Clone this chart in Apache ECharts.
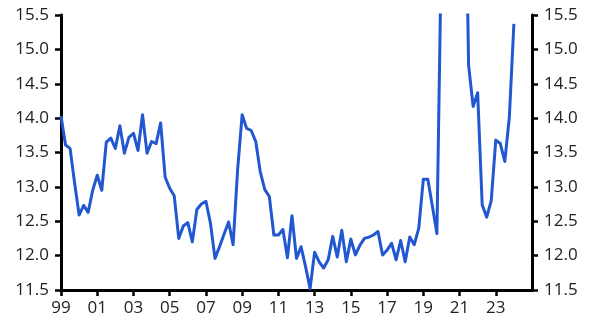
<!DOCTYPE html>
<html>
<head>
<meta charset="utf-8">
<script src="https://cdn.jsdelivr.net/npm/echarts@6/dist/echarts.min.js"></script>
<style>
  html, body { margin: 0; padding: 0; background: #fff; }
  #chart { width: 591px; height: 331px; }
</style>
</head>
<body>
<div id="chart"></div>
<script>
// Quarterly series, first point 1999 Q1
const startYear = 1999;
const values = [
  14.03, 13.61, 13.56, 13.06, 12.59, 12.73, 12.63, 12.95,   // 1999-2000
  13.17, 12.95, 13.65, 13.71, 13.56, 13.89, 13.49, 13.72,   // 2001-2002
  13.78, 13.53, 14.05, 13.49, 13.66, 13.63, 13.93, 13.14,   // 2003-2004
  12.98, 12.87, 12.25, 12.43, 12.48, 12.20, 12.67, 12.75,   // 2005-2006
  12.79, 12.47, 11.96, 12.13, 12.31, 12.49, 12.16, 13.25,   // 2007-2008
  14.05, 13.85, 13.82, 13.66, 13.22, 12.96, 12.86, 12.30,   // 2009-2010
  12.30, 12.38, 11.97, 12.58, 11.96, 12.13, 11.84, 11.52,   // 2011-2012
  12.05, 11.91, 11.82, 11.94, 12.28, 11.98, 12.37, 11.91,   // 2013-2014
  12.24, 12.01, 12.15, 12.25, 12.27, 12.30, 12.35, 12.01,   // 2015-2016
  12.08, 12.18, 11.94, 12.22, 11.91, 12.27, 12.16, 12.40,   // 2017-2018
  13.11, 13.11, 12.72, 12.32, 16.5, 25.0, 18.5, 20.0,       // 2019-2020
  21.0, 18.8, 14.77, 14.17, 14.37, 12.74, 12.56, 12.80,     // 2021-2022
  13.68, 13.63, 13.37, 14.02, 15.37                         // 2023-2024Q1
];
const xTicks = [1999, 2001, 2003, 2005, 2007, 2009, 2011, 2013, 2015, 2017, 2019, 2021, 2023];
const yMin = 11.5, yMax = 15.5, yStep = 0.5;

const seriesData = values.map((v, i) => [startYear + i / 4, v]);

const chart = echarts.init(document.getElementById('chart'), null, { renderer: 'canvas' });
const textStyle = { color: '#222', fontSize: 17, fontFamily: 'Open Sans' };
const axisLineStyle = { color: '#000', width: 3 };

function yAxis(pos) {
  return {
    type: 'value', position: pos, min: yMin, max: yMax, interval: yStep,
    axisLine: { show: true, lineStyle: axisLineStyle },
    axisTick: { show: true, length: 6, lineStyle: { color: '#000', width: 2.5 } },
    axisLabel: Object.assign({ margin: 12, formatter: v => v.toFixed(1) }, textStyle),
    splitLine: { show: false }
  };
}

chart.setOption({
  animation: false,
  grid: { left: 61, right: 59, top: 15, bottom: 41, containLabel: false },
  xAxis: {
    type: 'value', min: 1999, max: 2025,
    axisLine: { show: true, lineStyle: axisLineStyle },
    axisTick: { show: true, length: 6, customValues: xTicks, lineStyle: { color: '#000', width: 2.5 } },
    axisLabel: Object.assign({
      margin: 10,
      customValues: xTicks,
      formatter: v => String(Math.round(v) % 100).padStart(2, '0')
    }, textStyle),
    splitLine: { show: false }
  },
  yAxis: [yAxis('left'), yAxis('right')],
  series: [{
    type: 'line', yAxisIndex: 0, data: seriesData, showSymbol: false, symbol: 'none',
    clip: true,
    lineStyle: { color: '#2157d0', width: 3, join: 'round' }
  }]
});
</script>
</body>
</html>
